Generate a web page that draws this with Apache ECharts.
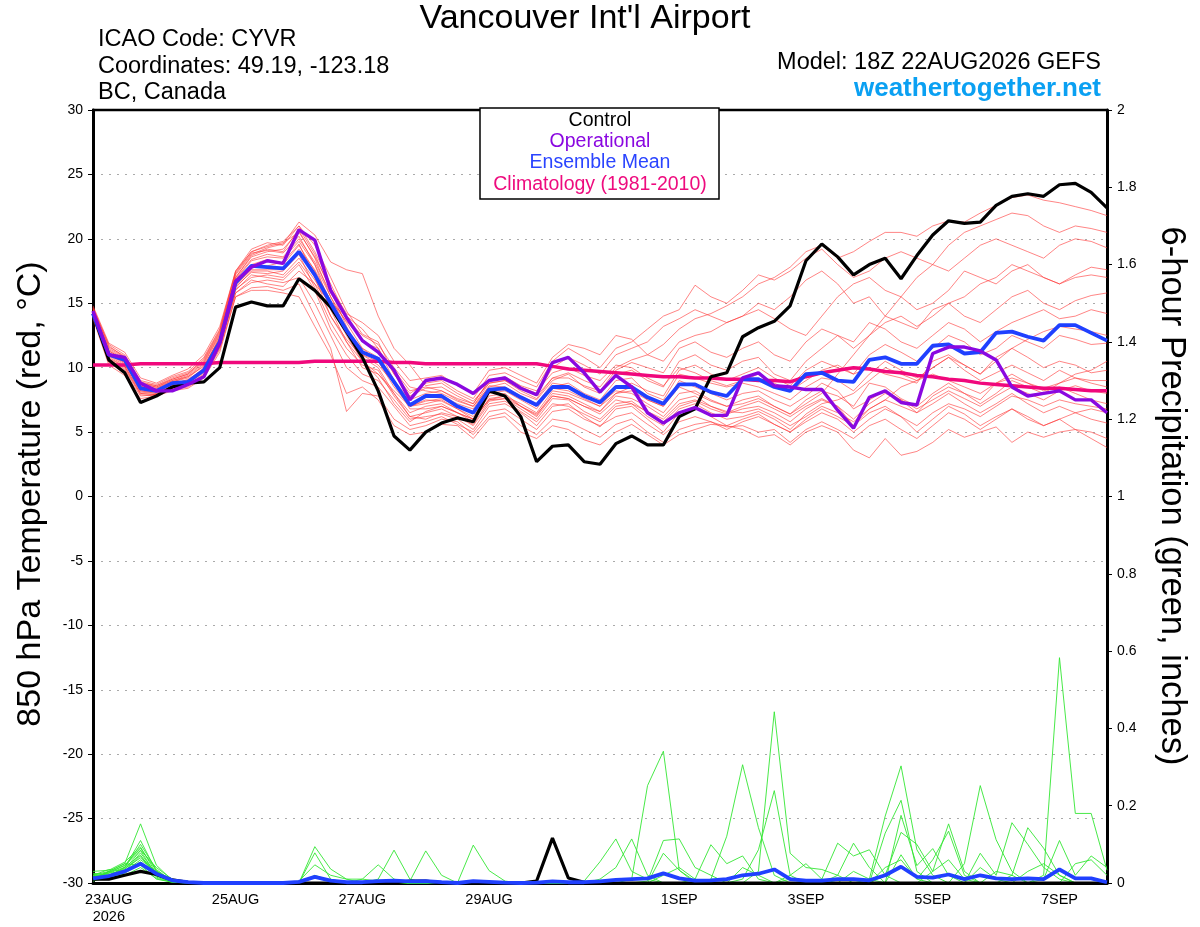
<!DOCTYPE html>
<html>
<head>
<meta charset="utf-8">
<script src="https://cdn.jsdelivr.net/npm/echarts/dist/echarts.min.js"></script>
<style>html,body{margin:0;padding:0;background:#fff}#chart{width:1200px;height:927px}</style>
</head>
<body>
<div id="chart"></div>
<script>
// ---------- tick labels ----------
const dayLabels = ['23AUG\n2026', '25AUG', '27AUG', '29AUG', '1SEP', '3SEP', '5SEP', '7SEP'];
const dayLabelIndex = [1, 9, 17, 25, 37, 45, 53, 61];
const stepCount = 65; // 6-hourly steps, 18Z 22AUG .. 18Z 7SEP

// ---------- 850 hPa temperature (C) ----------
const control = [14.2,10.6,9.6,7.3,7.8,8.5,8.8,8.9,10.0,14.7,15.1,14.8,14.8,16.9,16.0,14.7,12.8,10.8,8.2,4.7,3.6,5.0,5.7,6.1,5.8,8.2,7.8,6.2,2.7,3.9,4.0,2.7,2.5,4.1,4.7,4.0,4.0,6.2,6.8,9.3,9.6,12.4,13.1,13.6,14.8,18.3,19.6,18.6,17.2,18.0,18.5,16.9,18.7,20.3,21.4,21.2,21.3,22.6,23.3,23.5,23.3,24.2,24.3,23.6,22.4];
const operational = [14.4,11.0,10.8,8.8,8.2,8.2,8.7,9.3,11.9,16.7,17.8,18.3,18.1,20.7,19.9,16.0,13.9,12.1,11.2,9.8,7.5,9.0,9.2,8.7,8.0,9.0,9.2,8.4,7.9,10.4,10.8,9.6,8.1,9.4,8.5,6.5,5.7,6.5,6.9,6.3,6.3,9.2,9.6,8.6,8.5,8.3,8.3,6.7,5.3,7.7,8.2,7.3,7.1,11.1,11.6,11.6,11.3,10.6,8.5,7.8,8.0,8.2,7.5,7.5,6.5];
const ensembleMean = [14.2,11.0,10.6,8.4,8.2,8.8,8.9,9.8,12.0,16.6,17.9,17.8,17.7,19.0,17.2,15.0,12.9,11.2,10.7,8.9,7.1,7.8,7.8,7.0,6.5,8.3,8.4,7.7,7.1,8.5,8.5,7.8,7.3,8.5,8.5,7.7,7.2,8.7,8.7,8.1,7.8,9.1,9.1,8.5,8.2,9.5,9.6,9.0,8.9,10.6,10.8,10.3,10.3,11.7,11.8,11.1,11.2,12.7,12.8,12.4,12.1,13.3,13.3,12.7,12.1];
const climatology = [10.2,10.2,10.2,10.3,10.3,10.3,10.3,10.3,10.4,10.4,10.4,10.4,10.4,10.4,10.5,10.5,10.5,10.5,10.5,10.4,10.4,10.3,10.3,10.3,10.3,10.3,10.3,10.3,10.3,10.1,9.9,9.8,9.7,9.6,9.5,9.4,9.3,9.3,9.2,9.2,9.1,9.1,9.0,9.0,8.9,9.3,9.6,9.8,10.0,9.9,9.7,9.6,9.4,9.3,9.1,9.0,8.8,8.7,8.6,8.5,8.4,8.4,8.3,8.2,8.2];

const tMember01 = [14.6,11.6,10.9,8.9,8.6,9.2,9.6,10.6,12.8,17.2,18.8,19.3,19.6,21.3,20.3,18.2,17.6,17.3,14.0,11.5,10.2,8.6,8.8,8.0,7.4,8.8,9.0,8.2,7.6,9.2,9.6,9.0,8.5,10.0,10.6,11.0,11.8,13.0,13.8,14.2,14.8,15.5,16.5,17.0,17.8,19.0,19.5,18.5,19.0,19.8,20.5,20.5,20.2,21.0,21.4,21.3,22.0,22.6,23.2,23.4,23.0,22.8,22.5,22.2,21.8];
const tMember02 = [14.3,11.2,10.4,8.2,8.0,8.6,9.0,10.0,12.4,17.0,18.6,19.0,19.2,20.6,18.5,15.5,13.5,11.5,10.5,8.5,7.0,7.5,7.4,6.8,6.0,7.8,8.0,7.0,6.3,8.0,7.8,7.2,6.6,7.8,7.6,7.0,6.2,7.5,7.8,7.0,6.5,7.0,7.4,6.8,6.2,7.0,7.6,7.0,5.5,6.5,7.0,6.2,5.0,6.0,7.0,6.4,5.5,6.2,6.8,6.0,5.5,6.0,5.2,4.5,3.8];
const tMember03 = [13.9,10.6,10.0,8.0,7.9,8.4,8.6,9.4,11.6,16.0,17.2,17.0,16.8,18.0,16.0,13.0,11.0,9.5,9.0,7.5,6.0,6.2,6.4,6.0,5.2,7.0,7.2,6.5,5.5,7.0,7.2,6.2,5.4,6.8,7.0,6.0,5.0,6.5,7.0,6.2,5.5,6.0,6.4,5.6,5.0,6.0,6.8,6.2,5.5,6.8,7.5,7.0,6.5,7.8,8.5,8.0,7.2,8.0,9.0,8.5,8.0,8.8,9.5,9.8,10.5];
const tMember04 = [14.8,11.9,11.2,9.2,8.8,9.4,9.9,11.0,13.2,17.5,19.0,19.5,19.8,21.0,19.5,17.0,14.4,12.6,12.0,9.5,8.0,8.8,9.0,8.2,7.6,9.4,9.6,9.0,8.5,10.5,11.5,10.8,10.0,11.5,12.0,13.0,14.0,14.5,16.4,15.5,15.0,16.0,17.2,16.8,17.5,18.5,19.2,18.0,17.0,17.5,18.5,19.0,18.5,18.0,19.5,20.5,21.0,21.5,22.0,21.8,21.0,20.5,21.0,20.8,20.5];
const tMember05 = [14.1,10.9,10.2,8.4,8.3,8.9,9.2,10.2,12.2,16.5,18.0,18.4,18.0,19.5,17.5,14.5,12.0,10.0,9.5,8.0,6.5,7.0,7.2,6.5,6.0,7.5,7.8,7.2,6.5,8.2,8.0,7.5,7.0,8.0,8.5,7.5,7.0,9.0,8.5,8.0,7.5,8.0,8.2,7.5,7.0,7.8,8.8,8.2,6.8,7.5,8.2,7.5,6.5,7.2,8.0,7.2,6.5,7.2,8.0,7.2,6.5,7.0,6.5,6.0,5.7];
const tMember06 = [14.4,11.4,10.7,8.6,8.1,8.7,8.8,9.6,11.8,15.8,16.8,16.5,16.3,17.5,16.5,15.0,14.0,13.0,11.5,9.0,7.5,8.0,8.2,7.5,7.0,8.5,8.8,8.0,7.5,9.0,9.5,8.5,8.0,9.5,9.8,9.0,8.5,10.5,11.0,10.2,9.8,10.5,10.8,9.5,9.0,10.5,11.5,12.5,12.0,13.5,13.0,12.0,11.5,12.5,13.5,13.0,12.0,12.8,13.5,14.0,14.5,13.8,14.0,14.5,14.2];
const tMember07 = [14.0,10.4,9.6,7.8,7.9,8.3,8.5,9.3,11.4,15.5,16.2,16.3,16.0,16.5,14.0,11.5,6.6,8.0,7.8,6.0,5.2,5.5,6.0,5.8,4.8,6.2,6.5,5.5,4.8,6.0,5.8,5.2,4.6,5.6,6.0,5.0,4.2,5.2,5.6,5.8,5.4,5.5,5.0,5.2,4.2,5.2,5.8,5.2,4.5,5.5,6.0,5.2,4.5,5.5,6.5,6.0,5.2,6.0,6.8,6.2,5.5,6.0,6.5,6.8,6.5];
const tMember08 = [14.5,11.3,10.6,8.7,8.5,9.0,9.4,10.4,12.6,17.3,18.9,19.1,18.9,20.2,18.0,14.8,12.5,10.5,9.5,8.2,7.0,7.2,7.5,6.8,6.2,8.0,8.2,7.5,6.8,8.5,8.8,8.0,7.5,9.0,9.2,8.0,7.5,9.5,9.2,8.8,8.5,8.8,8.5,8.0,7.5,8.5,9.2,9.0,8.2,9.5,10.5,9.8,9.2,10.0,10.8,9.8,9.0,9.6,10.2,9.6,9.0,9.8,9.2,8.8,8.5];
const tMember09 = [14.2,11.0,10.3,8.3,8.2,8.7,9.1,9.9,12.0,16.8,18.3,18.6,18.5,19.8,18.0,15.5,13.0,11.0,10.2,8.8,7.2,7.8,7.8,7.2,6.8,8.6,8.5,7.8,7.2,8.8,8.6,7.8,7.2,8.2,8.0,7.2,6.5,8.0,8.2,7.5,7.0,7.5,7.8,7.0,6.4,7.5,8.2,7.8,7.0,8.8,8.5,7.6,7.0,8.0,8.8,8.0,7.5,8.8,9.5,8.8,8.2,8.5,8.0,7.5,7.2];
const tMember10 = [13.8,10.2,9.4,7.6,7.8,8.2,8.4,9.2,11.2,15.5,16.0,16.0,15.8,15.5,13.2,11.0,8.0,8.5,7.5,5.5,4.8,5.0,5.6,5.5,4.5,6.0,6.2,5.0,4.5,5.5,5.2,4.4,4.0,5.0,5.6,4.8,4.0,4.8,5.2,5.6,5.5,5.2,4.6,4.8,4.0,5.0,5.5,5.0,3.6,3.0,4.5,3.2,3.5,4.2,5.2,4.6,5.0,5.4,4.2,5.0,4.6,5.0,5.2,5.0,4.5];
const tMember11 = [14.6,11.8,11.0,9.0,8.7,9.3,9.7,10.8,13.0,17.5,19.2,19.7,19.5,21.0,19.0,16.5,14.0,12.0,11.5,9.5,7.8,8.4,8.5,7.8,7.2,9.0,9.2,8.5,8.0,10.0,10.8,10.2,9.5,11.0,11.5,12.0,13.2,13.8,14.5,14.0,13.5,14.0,15.0,14.5,15.5,16.8,17.5,16.5,15.0,15.5,14.0,15.5,17.0,18.0,17.5,18.5,19.5,20.0,19.5,19.0,18.5,19.5,20.0,19.8,19.3];
const tMember12 = [14.3,11.1,10.5,8.5,8.4,8.9,9.3,10.1,12.3,16.6,17.8,17.9,18.2,19.6,17.0,14.0,12.2,10.8,10.0,8.0,6.2,6.5,6.8,6.2,5.6,7.4,7.6,6.8,6.0,7.6,7.5,6.6,6.0,7.2,7.4,6.5,5.8,7.0,7.4,6.8,6.4,6.8,7.0,6.5,5.8,6.8,7.5,7.0,6.0,7.2,8.0,7.5,6.8,7.5,8.2,7.6,7.0,7.8,8.5,8.0,7.5,8.2,8.6,8.2,8.0];
const tMember13 = [14.0,10.7,10.1,8.1,8.0,8.5,8.8,9.7,11.9,16.2,17.5,17.5,17.2,18.5,16.8,14.8,12.8,11.5,10.8,9.0,7.0,7.4,7.6,7.0,6.5,8.2,8.3,7.6,7.0,8.4,8.2,7.6,7.0,8.4,8.8,8.2,7.8,9.8,10.2,9.5,9.0,9.5,10.0,9.2,8.6,9.8,10.5,10.0,9.5,11.0,11.8,11.2,10.5,11.5,12.5,12.0,11.0,11.5,12.5,12.0,11.5,12.5,12.2,11.8,11.9];
const tMember14 = [14.7,11.7,10.8,8.8,8.5,9.1,9.5,10.5,12.7,17.0,18.7,19.2,19.0,20.8,18.8,16.0,13.2,11.0,10.5,8.8,6.8,6.8,7.0,6.5,5.8,7.6,7.8,7.0,6.2,7.8,7.6,7.0,6.4,7.5,7.2,6.6,6.0,7.2,7.5,7.0,6.6,6.5,6.8,6.2,5.5,6.2,7.0,6.5,5.8,6.8,7.5,8.5,9.0,10.0,10.8,10.2,9.5,10.5,11.5,12.2,12.8,13.2,13.0,12.8,12.5];
const tMember15 = [14.2,11.0,10.4,8.5,8.3,8.8,9.0,9.9,12.1,16.4,17.6,17.6,17.6,19.2,17.6,15.2,13.6,12.2,11.2,9.8,8.2,8.5,8.2,7.6,7.2,9.0,9.3,8.6,8.2,9.6,10.0,9.4,9.0,10.2,10.0,9.2,8.6,10.0,9.6,9.0,8.6,9.0,9.5,8.8,8.2,9.0,9.8,10.2,9.5,10.0,9.5,9.2,8.8,10.5,11.0,10.2,9.5,10.8,11.5,10.8,10.0,10.5,10.2,9.6,9.8];
const tMember16 = [13.9,10.5,9.8,7.9,7.8,8.4,8.7,9.5,11.5,15.8,16.6,16.8,16.6,17.0,15.0,12.5,10.0,9.0,8.5,7.0,5.5,5.8,6.2,5.6,5.0,6.6,6.8,6.0,5.2,6.6,6.8,6.0,5.5,6.2,6.5,5.6,4.8,5.8,6.2,5.8,5.2,5.8,6.2,5.6,5.0,5.8,6.5,6.0,5.0,6.0,6.8,6.2,5.5,6.5,7.2,6.8,6.2,7.0,7.8,7.5,7.0,7.5,7.2,7.0,6.8];
const tMember17 = [14.4,11.3,10.6,8.6,8.4,9.0,9.3,10.3,12.5,16.9,18.4,18.8,18.6,20.0,18.2,15.8,13.8,12.5,11.8,10.0,8.5,8.2,8.0,7.4,7.0,8.8,9.0,8.4,7.8,9.2,9.2,8.6,8.2,9.8,10.4,10.0,9.6,11.5,12.0,11.2,10.8,11.5,12.0,11.0,10.5,12.0,13.0,12.5,11.5,12.5,14.0,13.5,13.0,14.5,15.0,14.0,13.5,14.5,15.5,16.0,15.0,14.5,15.2,15.6,15.8];
const tMember18 = [14.1,10.8,10.1,8.2,8.1,8.6,8.9,9.8,12.0,16.3,17.4,17.3,17.5,18.8,16.2,13.5,11.5,10.2,9.8,7.8,6.2,6.0,6.5,6.2,5.5,7.2,7.4,6.6,5.8,7.2,7.0,6.4,5.8,7.0,7.2,6.2,5.5,6.8,7.2,6.5,6.0,6.2,6.6,6.0,5.2,6.4,7.2,7.5,8.0,9.0,10.0,9.5,9.0,9.5,9.0,8.5,8.0,8.8,9.2,8.8,8.4,8.8,9.2,9.0,9.0];
const tMember19 = [14.5,11.5,10.8,8.8,8.6,9.1,9.5,10.7,12.9,17.4,19.0,19.4,19.7,20.5,18.6,16.2,14.2,13.5,12.5,10.5,9.0,9.2,9.4,8.6,8.0,9.8,10.0,9.4,8.8,10.8,11.8,11.5,11.0,12.5,12.2,11.0,10.5,12.0,12.5,12.8,13.5,14.0,14.5,13.8,13.0,12.5,14.0,15.5,16.5,17.0,16.0,15.5,14.5,15.0,16.0,17.5,17.0,16.5,17.5,18.0,17.0,16.5,17.2,17.8,17.6];
const tMember20 = [14.0,10.6,9.9,8.0,7.9,8.5,8.7,9.4,11.7,16.1,17.0,17.2,17.0,18.2,16.5,14.0,12.0,10.5,9.2,7.2,5.8,6.6,7.0,6.5,6.0,7.5,7.6,7.0,6.4,7.8,7.6,7.0,6.6,8.0,8.2,7.5,7.0,8.5,8.0,7.4,7.0,7.2,7.6,7.0,6.4,7.2,8.0,9.5,11.0,12.5,13.5,14.0,13.2,14.0,15.0,15.5,16.5,17.0,18.0,17.5,17.0,16.5,17.0,17.2,17.0];

// ---------- 6-hour precipitation (inches) ----------
const controlPrecip = [0.01,0.01,0.02,0.03,0.022,0.008,0.002,0,0,0, 0,0,0,0,0,0,0,0,0,0, 0.005,0.005,0,0,0,0,0,0,0.005,0.116, 0.013,0.002,0,0,0,0,0,0,0,0, 0,0,0,0,0,0,0,0,0,0, 0,0,0,0,0,0,0,0,0,0, 0,0,0,0,0];
const meanPrecip = [0.012,0.018,0.03,0.05,0.024,0.007,0.002,0,0,0, 0,0,0,0.003,0.016,0.006,0.002,0.002,0.005,0.006, 0.004,0.005,0.002,0,0.005,0.003,0.001,0,0.001,0.004, 0.002,0.002,0.004,0.008,0.01,0.012,0.025,0.012,0.006,0.007, 0.01,0.02,0.024,0.035,0.01,0.006,0.006,0.01,0.01,0.007, 0.02,0.042,0.016,0.014,0.022,0.01,0.02,0.012,0.01,0.012, 0.01,0.035,0.012,0.012,0.002];

const pMember01 = [0.02,0.03,0.05,0.153,0.046,0.007,0,0,0,0, 0,0,0,0,0,0,0,0,0,0, 0,0,0,0,0,0,0,0,0,0, 0,0,0,0,0,0,0,0,0,0.01, 0.121,0.306,0.143,0.02,0,0,0,0,0,0, 0,0,0,0,0,0,0,0,0,0, 0.02,0.583,0.18,0.18,0.033];
const pMember02 = [0.01,0.02,0.04,0.11,0.03,0.005,0,0,0,0, 0,0,0,0,0.094,0.036,0.01,0,0,0, 0,0,0,0,0,0,0,0,0,0, 0,0,0,0,0,0,0,0,0,0, 0,0,0,0,0,0,0,0,0,0.01, 0.173,0.303,0.086,0.02,0,0,0,0,0,0, 0,0,0,0,0];
const pMember03 = [0.03,0.033,0.054,0.093,0.024,0.004,0,0,0,0, 0,0,0,0,0.078,0.01,0,0,0,0, 0,0,0,0,0,0,0,0,0,0, 0,0,0,0,0.01,0.252,0.341,0.033,0.005,0, 0,0,0,0,0,0,0,0,0,0, 0.129,0.214,0.03,0,0,0,0,0,0,0, 0,0,0,0,0];
const pMember04 = [0.007,0.02,0.035,0.084,0.02,0.005,0,0,0,0, 0,0,0,0.005,0.047,0.02,0.01,0.01,0.005,0, 0,0,0,0,0,0,0,0,0,0, 0,0,0,0,0,0,0,0,0,0, 0,0.01,0.086,0.239,0.02,0,0,0,0,0, 0,0.175,0.045,0.089,0.02,0,0,0,0,0, 0,0,0,0,0];
const pMember05 = [0.015,0.025,0.041,0.072,0.015,0.003,0,0,0,0, 0,0,0,0,0,0,0,0.01,0.047,0.01, 0,0,0,0,0,0,0,0,0,0, 0,0,0,0,0,0.005,0.11,0.114,0.04,0.02, 0,0,0,0,0,0,0,0,0,0, 0.02,0.131,0.1,0.03,0.153,0.03,0,0,0,0, 0,0,0,0,0];
const pMember06 = [0.01,0.03,0.05,0.046,0.01,0.002,0,0,0,0, 0,0,0,0,0,0,0,0,0.01,0.085, 0.01,0,0,0,0,0,0,0,0,0, 0,0,0,0,0,0,0,0,0.01,0.099, 0.05,0.07,0.01,0,0,0,0,0,0,0, 0,0,0,0,0,0,0,0,0.02,0.143, 0.09,0.02,0,0,0];
const pMember07 = [0.02,0.02,0.03,0.06,0.03,0.008,0,0,0,0, 0,0,0,0,0,0,0,0,0,0, 0.005,0.083,0.02,0,0,0,0,0,0,0, 0,0,0,0,0,0,0,0,0,0, 0,0,0.03,0.443,0.077,0.04,0.035,0.02,0,0, 0,0,0,0,0,0.05,0.252,0.112,0.03,0, 0,0,0,0,0];
const pMember08 = [0.005,0.015,0.025,0.05,0.02,0.005,0,0,0,0, 0,0,0,0,0,0,0,0,0,0, 0,0,0,0,0.098,0.032,0.005,0,0,0, 0,0,0,0,0,0,0,0,0,0, 0,0,0,0,0,0,0.01,0.103,0.07,0.086, 0.02,0,0,0,0,0,0.077,0.02,0.156,0.1, 0.04,0.01,0,0,0];
const pMember09 = [0.012,0.028,0.045,0.085,0.04,0.01,0,0,0,0, 0,0,0,0,0,0,0,0,0,0, 0,0,0,0,0,0,0,0,0,0, 0,0.005,0.055,0.114,0.03,0.01,0,0,0,0, 0,0,0,0,0,0,0,0.02,0.103,0.04, 0,0,0,0,0,0,0,0,0,0, 0.01,0.11,0.02,0.07,0.04];
const pMember10 = [0.02,0.035,0.03,0.07,0.024,0.006,0,0,0,0, 0,0,0,0,0,0,0,0,0,0, 0,0,0,0,0,0,0,0,0,0, 0,0,0.01,0.04,0.114,0.02,0,0,0,0, 0,0,0,0,0,0,0,0,0,0, 0,0.073,0.01,0.06,0.134,0.02,0,0,0,0, 0,0,0,0,0];
const pMember11 = [0.008,0.018,0.04,0.1,0.035,0.005,0,0,0,0, 0,0,0,0,0,0,0,0,0,0, 0,0,0,0,0,0,0,0,0,0, 0,0,0,0,0,0,0.077,0.033,0,0, 0,0,0,0,0.02,0.05,0.01,0,0,0, 0,0,0,0,0,0,0,0,0,0, 0,0,0.05,0.06,0.02];
const pMember12 = [0.025,0.022,0.028,0.055,0.018,0.003,0,0,0,0, 0,0,0,0,0.02,0.005,0,0,0,0, 0,0,0,0,0,0,0,0,0,0, 0,0,0,0,0,0,0,0,0,0, 0,0.04,0.02,0,0,0,0,0,0,0, 0,0,0,0,0,0,0.04,0.01,0,0, 0,0,0,0,0];
const pMember13 = [0.01,0.03,0.02,0.04,0.012,0.002,0,0,0,0, 0,0,0,0,0,0,0,0,0,0, 0,0,0,0,0,0,0,0,0,0, 0,0,0,0,0,0,0,0,0,0, 0,0,0,0,0,0,0,0,0,0, 0,0,0,0.03,0.06,0.01,0,0,0,0.03, 0.05,0.02,0,0,0];
const pMember14 = [0.015,0.012,0.038,0.065,0.028,0.004,0,0,0,0, 0,0,0,0,0,0,0,0,0,0, 0,0,0,0,0,0,0,0,0,0, 0,0,0,0,0,0,0.02,0.04,0.01,0, 0,0,0,0,0,0,0,0,0.03,0.01, 0,0,0,0,0,0,0,0.03,0.02,0, 0,0,0,0,0];
const pMember15 = [0.006,0.02,0.03,0.078,0.022,0.006,0,0,0,0, 0,0,0,0,0,0,0,0,0,0, 0,0,0,0,0,0,0,0,0,0, 0,0,0,0,0,0,0,0,0,0, 0,0,0,0,0,0,0,0,0,0, 0.04,0.06,0.01,0,0,0,0,0,0,0, 0,0,0,0,0];
const pMember16 = [0.018,0.026,0.046,0.09,0.032,0.005,0,0,0,0, 0,0,0,0,0,0,0,0,0,0, 0,0,0,0,0,0,0,0,0,0, 0,0,0,0,0,0,0,0,0,0, 0,0,0,0,0.01,0,0,0,0,0, 0,0,0,0,0,0,0,0,0,0, 0,0,0,0,0];

const tempMembers = [tMember01,tMember02,tMember03,tMember04,tMember05,tMember06,tMember07,tMember08,tMember09,tMember10,tMember11,tMember12,tMember13,tMember14,tMember15,tMember16,tMember17,tMember18,tMember19,tMember20];
const precipMembers = [pMember01,pMember02,pMember03,pMember04,pMember05,pMember06,pMember07,pMember08,pMember09,pMember10,pMember11,pMember12,pMember13,pMember14,pMember15,pMember16];

// ---------- build chart ----------
const FONT = 'Liberation Sans, Arial, Helvetica, sans-serif';
const steps = [];
for (let i = 0; i < stepCount; i++) steps.push(String(i));

const series = [];
precipMembers.forEach(d => series.push({
  type: 'line', yAxisIndex: 1, data: d, symbol: 'none', silent: true, z: 2,
  lineStyle: { color: '#33e633', width: 0.9 }
}));
tempMembers.forEach(d => series.push({
  type: 'line', yAxisIndex: 0, data: d, symbol: 'none', silent: true, z: 2,
  lineStyle: { color: 'rgba(255,50,50,0.75)', width: 0.8 }
}));
series.push({ type: 'line', yAxisIndex: 0, data: climatology, symbol: 'none', z: 3, lineStyle: { color: '#f0087c', width: 3.5 } });
series.push({ type: 'line', yAxisIndex: 0, data: control, symbol: 'none', z: 4, lineStyle: { color: '#000000', width: 3.2 } });
series.push({ type: 'line', yAxisIndex: 1, data: controlPrecip, symbol: 'none', z: 4, lineStyle: { color: '#000000', width: 3.2 } });
series.push({ type: 'line', yAxisIndex: 1, data: meanPrecip, symbol: 'none', z: 5, lineStyle: { color: '#2040ff', width: 3.8 } });
series.push({ type: 'line', yAxisIndex: 0, data: ensembleMean, symbol: 'none', z: 5, lineStyle: { color: '#2040ff', width: 3.8 } });
series.push({ type: 'line', yAxisIndex: 0, data: operational, symbol: 'none', z: 6, lineStyle: { color: '#8a08e0', width: 3.4 } });

const legendItems = [
  { text: 'Control', color: '#000000', y: 121 },
  { text: 'Operational', color: '#8a08e0', y: 142 },
  { text: 'Ensemble Mean', color: '#2a44ff', y: 163 },
  { text: 'Climatology (1981-2010)', color: '#ee0b7e', y: 185 }
];

const graphics = [
  { type: 'line', z: 90, shape: { x1: 92, y1: 110, x2: 1108, y2: 110 }, style: { stroke: '#000', lineWidth: 2.5 } },
  { type: 'text', x: 585, y: 19, z: 100, style: { text: "Vancouver Int'l Airport", fontSize: 34, fontFamily: FONT, fill: '#000', align: 'center', verticalAlign: 'middle' } },
  { type: 'text', x: 98, y: 40, z: 100, style: { text: 'ICAO Code: CYVR', fontSize: 23.5, fontFamily: FONT, fill: '#000', align: 'left', verticalAlign: 'middle' } },
  { type: 'text', x: 98, y: 67, z: 100, style: { text: 'Coordinates: 49.19, -123.18', fontSize: 23.5, fontFamily: FONT, fill: '#000', align: 'left', verticalAlign: 'middle' } },
  { type: 'text', x: 98, y: 93, z: 100, style: { text: 'BC, Canada', fontSize: 23.5, fontFamily: FONT, fill: '#000', align: 'left', verticalAlign: 'middle' } },
  { type: 'text', x: 1101, y: 63, z: 100, style: { text: 'Model: 18Z 22AUG2026 GEFS', fontSize: 23.5, fontFamily: FONT, fill: '#000', align: 'right', verticalAlign: 'middle' } },
  { type: 'text', x: 1101, y: 89, z: 100, style: { text: 'weathertogether.net', fontSize: 26, fontWeight: 'bold', fontFamily: FONT, fill: '#0aa0f2', align: 'right', verticalAlign: 'middle' } },
  { type: 'text', x: 31, y: 494, rotation: Math.PI / 2, z: 100, style: { text: '850 hPa Temperature (red, \u00B0C)', fontSize: 34, fontFamily: FONT, fill: '#000', align: 'center', verticalAlign: 'middle' } },
  { type: 'text', x: 1172, y: 496, rotation: -Math.PI / 2, z: 100, style: { text: '6-hour Precipitation (green, inches)', fontSize: 34.5, fontFamily: FONT, fill: '#000', align: 'center', verticalAlign: 'middle' } },
  { type: 'rect', z: 100, shape: { x: 480, y: 108, width: 239, height: 91 }, style: { fill: '#fff', stroke: '#000', lineWidth: 1.5 } }
];
legendItems.forEach(it => graphics.push({
  type: 'text', x: 600, y: it.y, z: 101,
  style: { text: it.text, fontSize: 19.5, fontFamily: FONT, fill: it.color, align: 'center', verticalAlign: 'middle' }
}));

const option = {
  animation: false,
  backgroundColor: '#ffffff',
  textStyle: { fontFamily: FONT },
  grid: { left: 93, right: 93, top: 110, bottom: 44, show: true, borderColor: '#000', borderWidth: 2, backgroundColor: '#fff' },
  xAxis: {
    type: 'category', data: steps, boundaryGap: false,
    axisLine: { onZero: false, lineStyle: { color: '#000', width: 3 } },
    axisTick: { show: false },
    splitLine: { show: false },
    axisLabel: {
      interval: (idx) => dayLabelIndex.indexOf(idx) >= 0,
      formatter: (val, idx) => { const k = dayLabelIndex.indexOf(idx); return k >= 0 ? dayLabels[k] : ''; },
      color: '#000', fontSize: 14.5, fontFamily: FONT, margin: 8, lineHeight: 17
    }
  },
  yAxis: [
    {
      type: 'value', min: -30, max: 30, interval: 5, position: 'left',
      axisLine: { show: true, onZero: false, lineStyle: { color: '#000', width: 3 } },
      axisTick: { show: true, length: 5, lineStyle: { color: '#000', width: 1 } },
      axisLabel: { color: '#000', fontSize: 14, fontFamily: FONT, margin: 10 },
      splitLine: { show: true, lineStyle: { color: '#aaaaaa', width: 1, type: [2, 6] } }
    },
    {
      type: 'value', min: 0, max: 2, interval: 0.2, position: 'right',
      axisLine: { show: true, onZero: false, lineStyle: { color: '#000', width: 3 } },
      axisTick: { show: true, length: 5, lineStyle: { color: '#000', width: 1 } },
      axisLabel: { color: '#000', fontSize: 14, fontFamily: FONT, margin: 10, formatter: v => String(+v.toFixed(2)) },
      splitLine: { show: false }
    }
  ],
  series: series,
  graphic: graphics
};

const chart = echarts.init(document.getElementById('chart'), null, { renderer: 'canvas' });
chart.setOption(option);
</script>
</body>
</html>
